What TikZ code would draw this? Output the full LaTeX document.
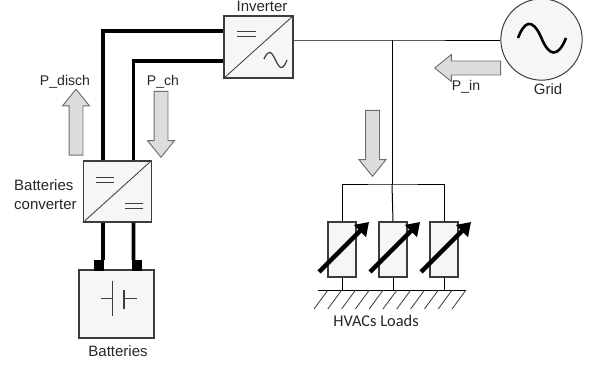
\documentclass[tikz,border=0pt]{standalone}
\usepackage{fontspec}
\usepackage{xcolor}
\usetikzlibrary{shapes.arrows,arrows.meta}
\setmainfont{Liberation Sans}
\newfontfamily\loadfont{Carlito}
\definecolor{ink}{HTML}{262626}
\definecolor{edge}{HTML}{3C3C3C}
\definecolor{paleBox}{HTML}{F6F6F6}
\definecolor{paleArrow}{HTML}{DCDCDC}
\definecolor{arrowEdge}{HTML}{6E6E6E}
\tikzset{
  unitbox/.style={draw=edge,fill=paleBox,line width=1pt,inner sep=0pt},
  loadbox/.style={unitbox,minimum width=0.84cm,minimum height=1.65cm},
  terminal/.style={fill=black,inner sep=0pt,minimum width=0.31cm,minimum height=0.31cm},
  flowarrow/.style={single arrow,draw=arrowEdge,fill=paleArrow,line width=0.8pt,inner xsep=0pt,inner ysep=0.195cm,
    minimum width=0.78cm,minimum height=1.98cm,single arrow head extend=0.195cm,single arrow tip angle=78},
  label/.style={inner sep=0pt,text=ink,font=\fontsize{12.8}{16}\selectfont},
  flowlabel/.style={label,font=\fontsize{12}{14}\selectfont},
  powerline/.style={line width=3.4pt,black},
  wire/.style={line width=0.85pt,black},
  symbol/.style={line width=0.7pt,edge},
  tuner/.style={line width=3.8pt,black,-{Triangle[length=11pt,width=14pt]}}
}
\begin{document}
\begin{tikzpicture}[x=0.03cm,y=-0.03cm]
\useasboundingbox (0,0) rectangle (593,366);
% converters and batteries
\node[unitbox,minimum width=2.07cm,minimum height=1.86cm] (inverter) at (258.5,47) {};
\node[unitbox,minimum width=2.03cm,minimum height=1.83cm] (converter) at (117.25,191.5) {};
\node[unitbox,minimum width=2.25cm,minimum height=2.04cm] (batteries) at (116.5,304) {};
\node[terminal] (termA) at (99,265.5) {};
\node[terminal] (termB) at (137,265.5) {};
\node[label] (inverterText) at (262,6.5) {Inverter};
\node[label,align=left,anchor=west] (converterText) at (14,194.5) {Batteries\\converter};
\node[label] (batteriesText) at (118,351) {Batteries};
% grid
\node[draw=edge,fill=paleBox,line width=0.85pt,circle,inner sep=0pt,minimum size=2.44cm] (grid) at (541.5,39.5) {};
\node[label] (gridText) at (548,89) {Grid};
% loads
\node[loadbox] (loadA) at (342,249.5) {};
\node[loadbox] (loadB) at (393,249.5) {};
\node[loadbox] (loadC) at (444,249.5) {};
\node[label,font=\loadfont\fontsize{14}{16}\selectfont] (loadsText) at (376,321) {HVACs Loads};
\coordinate (gndLeft) at (318,290);
\coordinate (gndRight) at (466,290);
\coordinate (junction) at (392,40);
\coordinate (split) at (392,184);
% power lines
\draw[powerline] ([shift={(-14.25,0)}]converter.north) |- ([shift={(0,-16)}]inverter.west);
\draw[powerline] ([shift={(16.25,0)}]converter.north) |- ([shift={(0,14)}]inverter.west);
\draw[powerline] ([shift={(-14.25,0)}]converter.south) -- ([shift={(4,0)}]termA.north);
\draw[powerline] ([shift={(16.25,0)}]converter.south) -- ([shift={(-3.5,0)}]termB.north);
% ac side
\draw[wire] ([shift={(0,-7)}]inverter.east) -- (junction) -- (grid.west |- junction);
\draw[wire] (junction) -- (split);
\draw[wire] (loadA.north) |- (split) -| (loadC.north);
\draw[wire] (split) -- (loadB.north);
\draw[wire] (loadA.south) -- (loadA.south |- gndLeft);
\draw[wire] (loadB.south) -- (loadB.south |- gndLeft);
\draw[wire] (loadC.south) -- (loadC.south |- gndLeft);
\draw[wire] (gndLeft) -- (gndRight);
\draw[symbol] (328,290) -- (314,309) (341.8,290) -- (327.8,309) (355.6,290) -- (341.6,309)
  (369.4,290) -- (355.4,309) (383.2,290) -- (369.2,309) (397,290) -- (383,309)
  (410.8,290) -- (396.8,309) (424.6,290) -- (410.6,309) (438.4,290) -- (424.4,309)
  (452.2,290) -- (438.2,309) (466,290) -- (452,309);
\draw[tuner] ([shift={(-23,22.5)}]loadA.center) -- ([shift={(27,-27.5)}]loadA.center);
\draw[tuner] ([shift={(-23,22.5)}]loadB.center) -- ([shift={(27,-27.5)}]loadB.center);
\draw[tuner] ([shift={(-23,22.5)}]loadC.center) -- ([shift={(27,-27.5)}]loadC.center);
% symbols
\draw[symbol] (inverter.south west) -- (inverter.north east);
\draw[symbol] (converter.south west) -- (converter.north east);
\draw[symbol] (237,31) -- (256,31) (237,36) -- (256,36);
\draw[symbol] (96,177) -- (114,177) (96,182) -- (114,182);
\draw[symbol] (125,203) -- (143,203) (125,208) -- (143,208);
\draw[line width=1pt,edge] (264,59) .. controls (268,50) and (271,50) .. (275.5,60) .. controls (280,70) and (283,70) .. (287,60);
\draw[line width=2.2pt,black] (518,38) .. controls (524,22) and (532,17) .. (541,37) .. controls (549,57) and (558,58) .. (566,38);
\draw[symbol] (101,298) -- (112,298) (112,281) -- (112,316);
\draw[line width=1.6pt,edge] (124,290) -- (124,309);
\draw[symbol] (124,298) -- (137,298);
% flows
\node[flowarrow,rotate=90] (flowDisch) at (76,126.5) {};
\node[flowarrow,rotate=-90] (flowCh) at (161,120) {};
\node[flowarrow,rotate=-90] (flowLoad) at (372.5,139) {};
\node[flowarrow,rotate=180] (flowIn) at (472,68) {};
\node[flowlabel] (dischText) at (65,82) {P\_disch};
\node[flowlabel] (chText) at (163,82) {P\_ch};
\node[flowlabel] (inText) at (466,87) {P\_in};
\end{tikzpicture}
\end{document}
